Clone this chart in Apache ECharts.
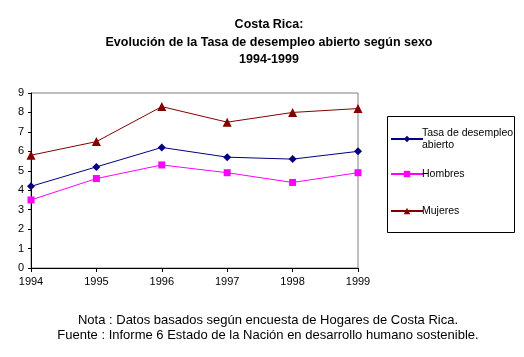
<!DOCTYPE html>
<html><head><meta charset="utf-8">
<script src="https://cdn.jsdelivr.net/npm/echarts@6/dist/echarts.min.js"></script>
<style>html,body{margin:0;padding:0;background:#fff}#c{width:524px;height:357px}</style>
</head><body><div id="c"></div>
<script>
var years = ['1994','1995','1996','1997','1998','1999'];
var tasa = [4.2, 5.2, 6.2, 5.7, 5.6, 6.0];
var hombres = [3.5, 4.6, 5.3, 4.9, 4.4, 4.9];
var mujeres = [5.8, 6.5, 8.3, 7.5, 8.0, 8.2];
var names = ['Tasa de desempleo\nabierto', 'Hombres', 'Mujeres'];
var F = 'Liberation Sans, Arial, sans-serif';
var chart = echarts.init(document.getElementById('c'));
function leg(name, top){
  return {data:[name], orient:'vertical', left:390, top:top, itemWidth:32, itemHeight:8, itemGap:0,
    padding:0, selectedMode:false, textStyle:{fontFamily:F, fontSize:10.5, color:'#000', lineHeight:12, padding:[0,0,0,-6]}};
}
chart.setOption({
  animation:false,
  title:[
    {text:'Costa Rica:\nEvolución de la Tasa de desempleo abierto según sexo\n1994-1999', left:264, top:11, textAlign:'center',
     textStyle:{fontFamily:F, fontSize:12.5, fontWeight:'bold', color:'#000', lineHeight:17.5}},
    {text:'Nota : Datos basados según encuesta de Hogares de Costa Rica.\nFuente : Informe 6 Estado de la Nación en desarrollo humano sostenible.', left:263, top:308, textAlign:'center',
     textStyle:{fontFamily:F, fontSize:13, fontWeight:'normal', color:'#000', lineHeight:15}}
  ],
  legend:[leg(names[0], 127), leg(names[1], 168), leg(names[2], 205)],
  graphic:[{type:'rect', shape:{x:387.5, y:116.5, width:127, height:116}, style:{fill:'none', stroke:'#000', lineWidth:1}, z:-1}],
  grid:{left:31, right:166, top:93, bottom:89, show:true, borderColor:'#808080', borderWidth:1, backgroundColor:'transparent'},
  xAxis:{type:'category', data:years, boundaryGap:false,
    axisLine:{lineStyle:{color:'#000'}}, axisTick:{show:true, length:4, lineStyle:{color:'#000'}},
    axisLabel:{fontFamily:F, fontSize:11, color:'#000', margin:8}, splitLine:{show:false}},
  yAxis:{type:'value', min:0, max:9, interval:1,
    axisLine:{show:true, lineStyle:{color:'#000'}}, axisTick:{show:true, length:3, lineStyle:{color:'#000'}},
    axisLabel:{fontFamily:F, fontSize:11, color:'#000', margin:7}, splitLine:{show:false}},
  series:[
    {name:names[0], type:'line', data:tasa, symbol:'diamond', symbolSize:8, color:'#000080', lineStyle:{width:1, color:'#000080'}, itemStyle:{color:'#000080'}},
    {name:names[1], type:'line', data:hombres, symbol:'rect', symbolSize:7, color:'#FF00FF', lineStyle:{width:1, color:'#FF00FF'}, itemStyle:{color:'#FF00FF'}},
    {name:names[2], type:'line', data:mujeres, symbol:'triangle', symbolSize:9, color:'#800000', lineStyle:{width:1, color:'#800000'}, itemStyle:{color:'#800000'}}
  ]
});
</script></body></html>
